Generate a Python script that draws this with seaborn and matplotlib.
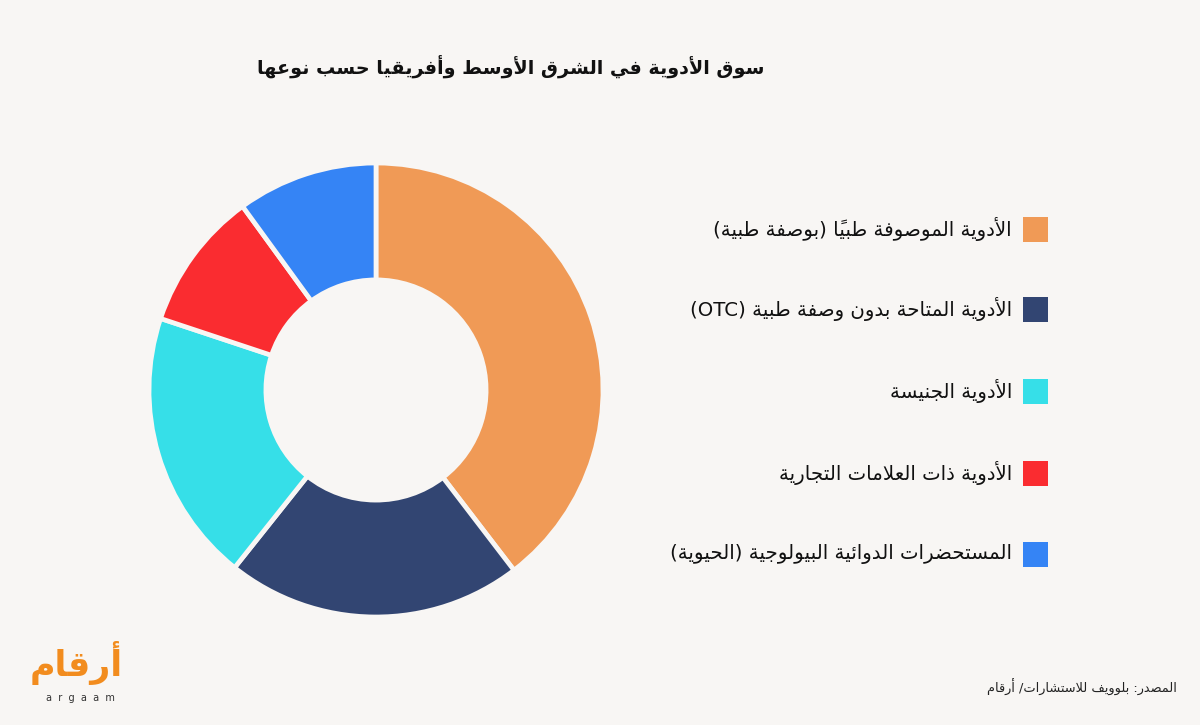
import re
import matplotlib
matplotlib.use("Agg")
import matplotlib.pyplot as plt
import seaborn as sns

# ---- data ----
categories = [
    "الأدوية الموصوفة طبياً (بوصفة طبية)",
    "الأدوية المتاحة بدون وصفة طبية (OTC)",
    "الأدوية الجنيسة",
    "الأدوية ذات العلامات التجارية",
    "المستحضرات الدوائية البيولوجية (الحيوية)",
]
shares = [39.6, 21.1, 19.4, 9.9, 10.0]
colors = ["#F09A56", "#324572", "#36DFE8", "#FA2C30", "#3584F5"]

title = "سوق الأدوية في الشرق الأوسط وأفريقيا حسب نوعها"
source = "المصدر: بلوويف للاستشارات/ أرقام"
logo_ar = "أرقام"
logo_en = "argaam"

BG = "#F8F6F4"


# ---- tiny Arabic shaper (matplotlib has no complex text layout) ----
RIGHT_ONLY = set("\u0622\u0623\u0624\u0625\u0627\u0629\u062F\u0630\u0631\u0632\u0648\u0649")
FORMS = {"\u0621": ("\uFE80",)}
_code = 0xFE81
for _c in list(range(0x0622, 0x063B)) + list(range(0x0641, 0x064B)):
    _n = 2 if chr(_c) in RIGHT_ONLY else 4
    FORMS[chr(_c)] = tuple(chr(_code + i) for i in range(_n))
    _code += _n
LAM_ALEF = {"\u0622": 0xFEF5, "\u0623": 0xFEF7, "\u0625": 0xFEF9, "\u0627": 0xFEFB}


def is_mark(ch):
    return "\u064B" <= ch <= "\u0652" or ch == "\u0670"


def ar(text):
    chars = list(text)
    n = len(chars)

    def neighbour(i, step):
        j = i + step
        while 0 <= j < n and is_mark(chars[j]):
            j += step
        return chars[j] if 0 <= j < n else None

    out = []
    i = 0
    while i < n:
        ch = chars[i]
        if ch not in FORMS or len(FORMS[ch]) == 1:
            out.append(ch)
            i += 1
            continue
        p = neighbour(i, -1)
        nx = neighbour(i, 1)
        pj = p in FORMS and len(FORMS[p]) == 4
        nj = nx in FORMS and len(FORMS[nx]) > 1
        if ch == "\u0644" and nx in LAM_ALEF:
            out.append(chr(LAM_ALEF[nx] + (1 if pj else 0)))
            i += 1
            while i < n and is_mark(chars[i]):
                out.append(chars[i])
                i += 1
            i += 1  # skip the alef
            continue
        f = FORMS[ch]
        if len(f) == 2:
            out.append(f[1] if pj else f[0])
        else:
            if pj and nj:
                out.append(f[3])
            elif pj:
                out.append(f[1])
            elif nj:
                out.append(f[2])
            else:
                out.append(f[0])
        i += 1

    # group base + marks, then reverse for visual order
    clusters = []
    for ch in out:
        if is_mark(ch) and clusters:
            clusters[-1] += ch
        else:
            clusters.append(ch)
    clusters.reverse()
    vis = "".join(clusters)
    vis = vis.translate(str.maketrans("()", ")("))
    vis = re.sub(r"[A-Za-z0-9]+", lambda m: m.group(0)[::-1], vis)
    return vis


# ---- figure ----
sns.set_theme(style="white")
plt.rcParams["font.family"] = ["DejaVu Sans"]

W, H = 1200, 725
fig = plt.figure(figsize=(W / 100, H / 100), dpi=100, facecolor=BG)

cx, cy, R = 376, 390, 227
ax = fig.add_axes([(cx - R) / W, (H - cy - R) / H, 2 * R / W, 2 * R / H])
ax.set_facecolor(BG)
ax.pie(
    shares,
    colors=colors,
    startangle=90,
    counterclock=False,
    radius=1,
    wedgeprops=dict(width=0.515, edgecolor=BG, linewidth=3.4),
)
ax.set_xlim(-1, 1)
ax.set_ylim(-1, 1)
ax.set_aspect("equal")
ax.axis("off")

# title
fig.text(511 / W, 1 - 66 / H, ar(title), ha="center", va="center",
         fontsize=13.8, fontweight="bold", color="#111111")

# legend (squares + right-aligned labels)
leg_y = [229.5, 309, 391, 473, 554.5]
sq = 25
for label, col, y in zip(categories, colors, leg_y):
    fig.patches.append(plt.Rectangle((1023 / W, 1 - (y + sq / 2) / H), sq / W, sq / H,
                                     transform=fig.transFigure, facecolor=col,
                                     edgecolor="none"))
    fig.text(1012 / W, 1 - y / H, ar(label), ha="right", va="center",
             fontsize=14.2, color="#111111")

# source
fig.text(1177 / W, 1 - 687 / H, ar(source), ha="right", va="center",
         fontsize=9.3, color="#222222")

# logo
fig.text(76 / W, 1 - 663 / H, ar(logo_ar), ha="center", va="center",
         fontsize=25, fontweight="bold", color="#F28C1E")
fig.text(80 / W, 1 - 698 / H, "  ".join(logo_en), ha="center", va="center",
         fontsize=7, color="#333333")

fig.savefig("out.png", dpi=100, facecolor=BG)
